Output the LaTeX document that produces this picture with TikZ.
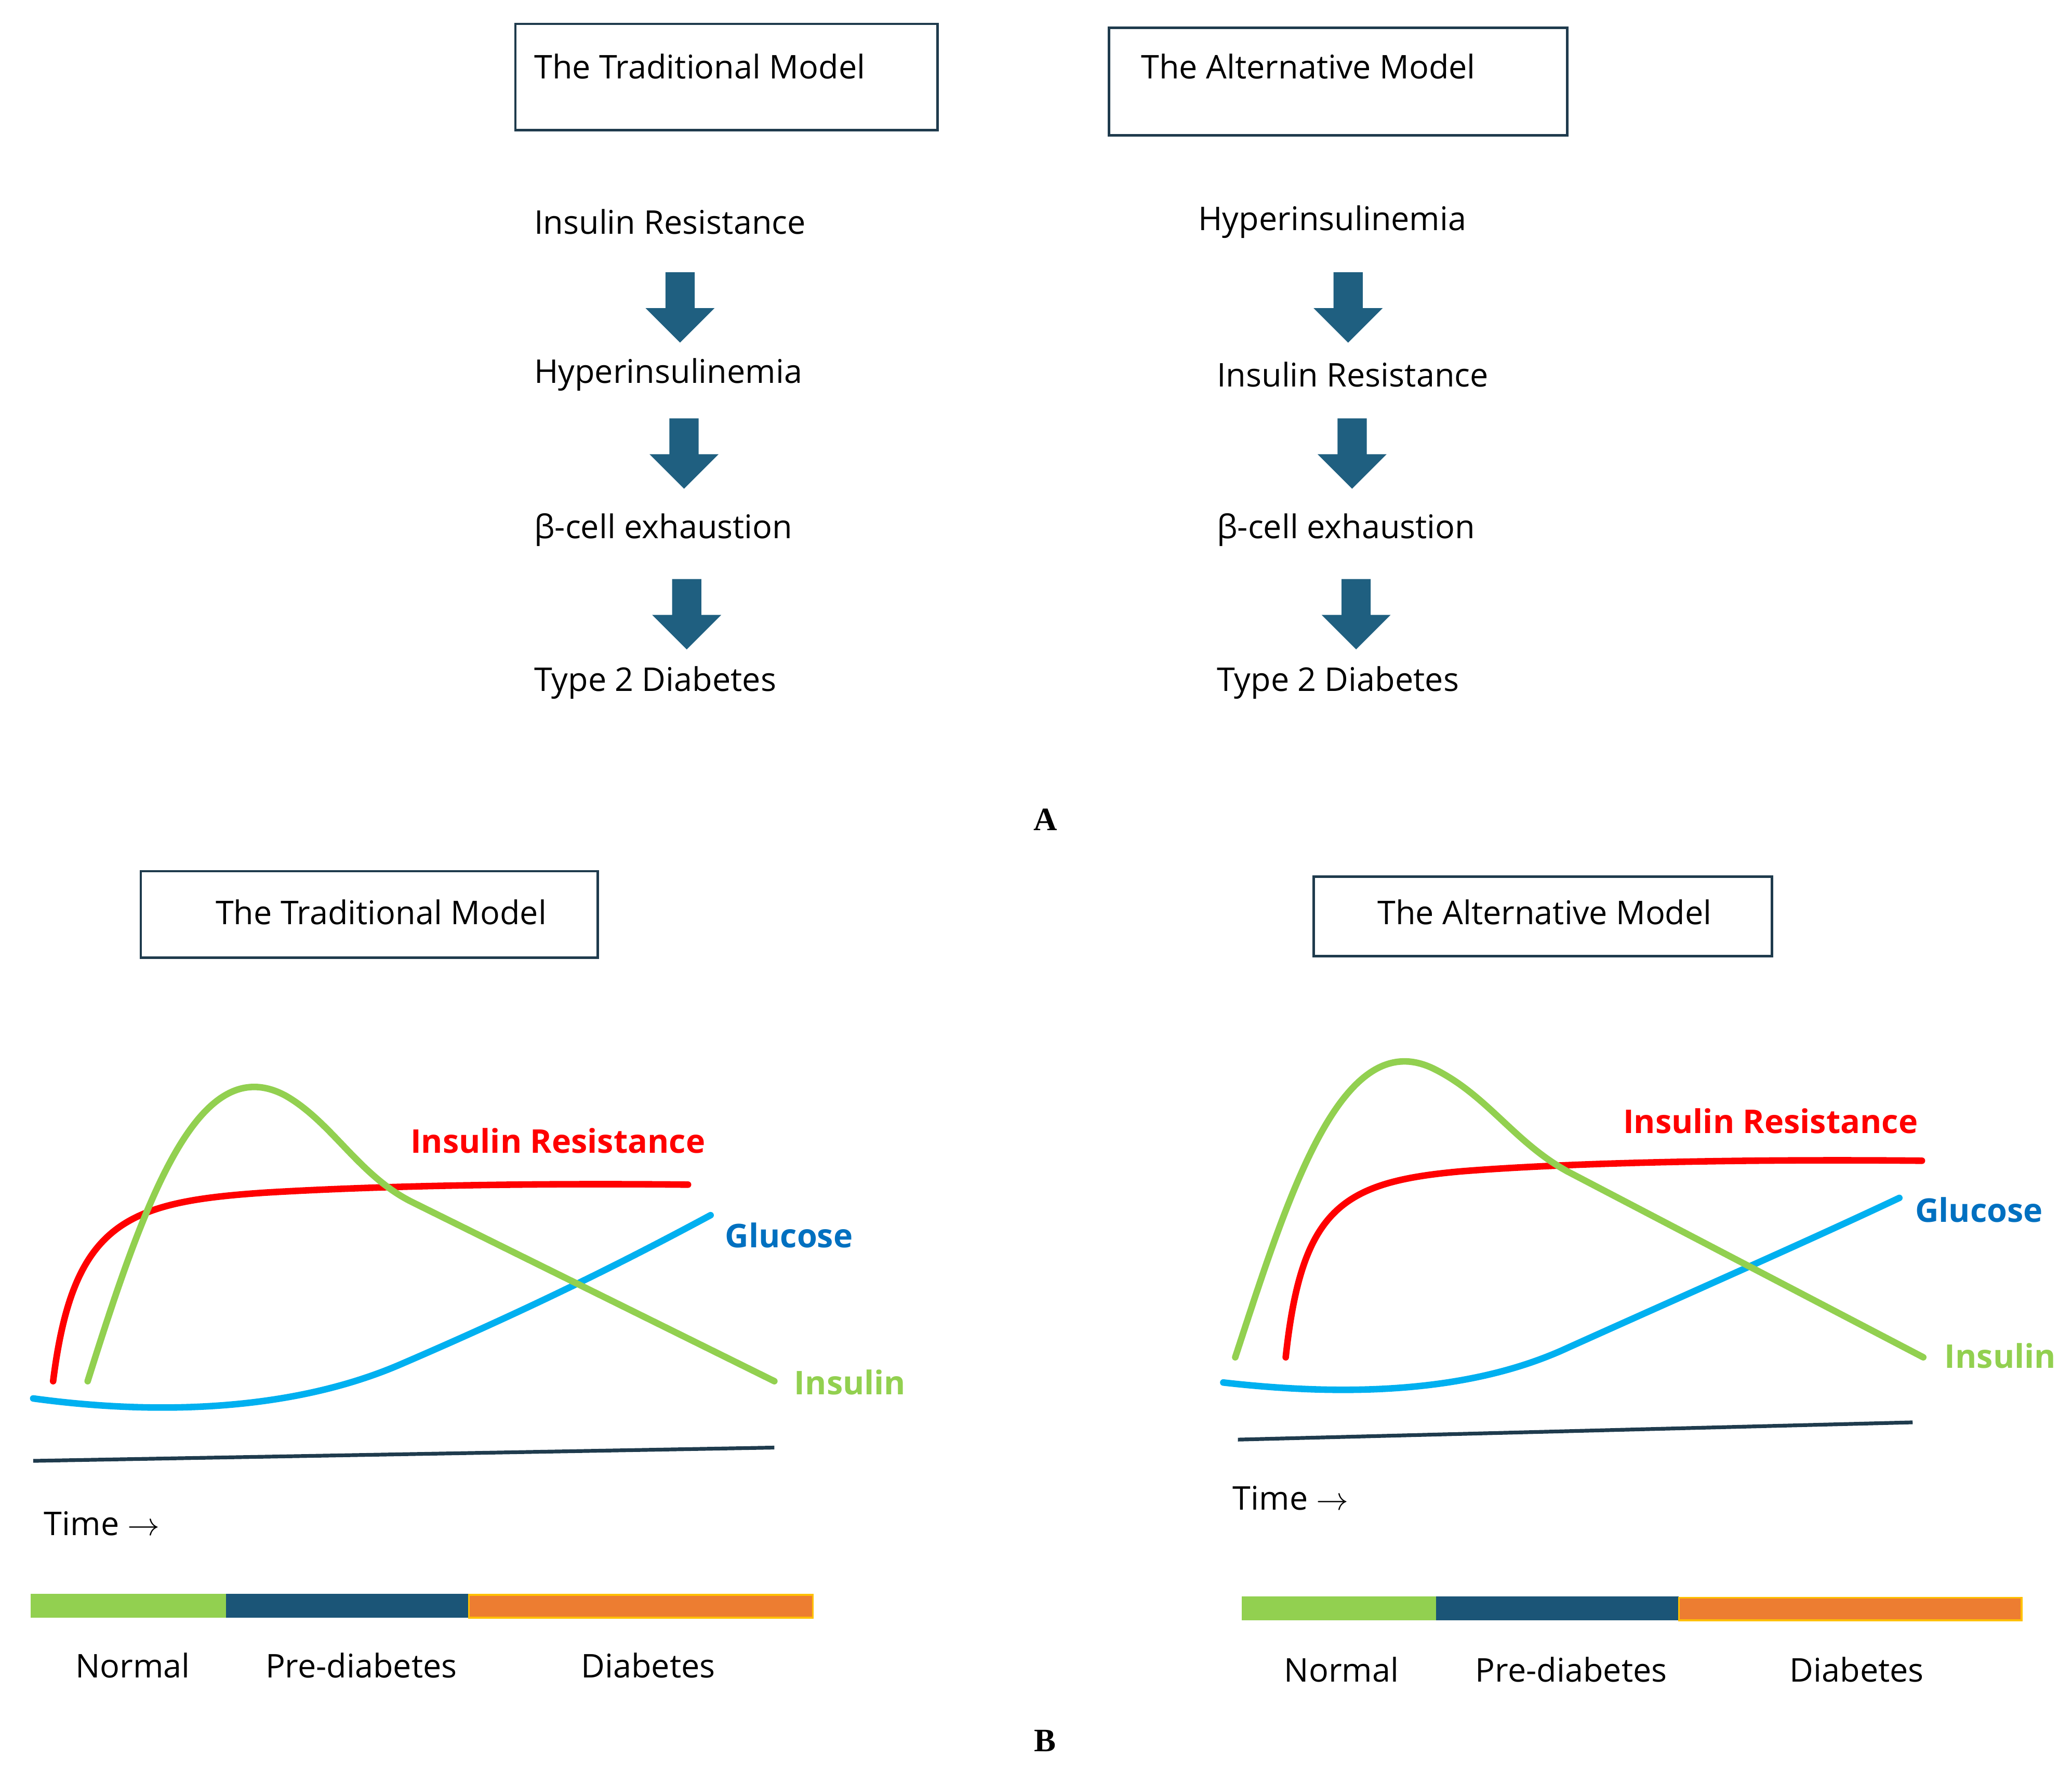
\documentclass[tikz,border=0pt]{standalone}
\usepackage{fontspec}
\setmainfont{Open Sans}
\newfontfamily\serifb{Liberation Serif}
\definecolor{dk}{HTML}{1F5F80}
\definecolor{bx}{HTML}{1F3B4D}
\definecolor{cR}{HTML}{FF0000}
\definecolor{cG}{HTML}{92D050}
\definecolor{cB}{HTML}{00B0F0}
\definecolor{cBl}{HTML}{0070C0}
\definecolor{bar}{HTML}{1B5577}
\definecolor{org}{HTML}{ED7D31}
\definecolor{ylw}{HTML}{FFC000}
\begin{document}
\begin{tikzpicture}[x=0.03cm,y=-0.03cm,
  txt/.style={font=\fontsize{21}{24}\selectfont,anchor=west,inner sep=0},
  ctxt/.style={font=\fontsize{21}{24}\selectfont,inner sep=0},
  lab/.style={font=\fontsize{21}{24}\selectfont\bfseries,inner sep=0},
  box/.style={draw=bx,line width=1.6pt},
  crv/.style={line width=4.2pt,line cap=round},
  ax/.style={draw=bx,line width=2.4pt}]
\useasboundingbox (0,0) rectangle (1560,1334);
\newcommand\dnarrow[3]{\fill[dk] (#1-11,#2) -- (#1+11,#2) -- (#1+11,#2+27) -- (#1+26,#2+27) -- (#1,#2+53) -- (#1-26,#2+27) -- (#1-11,#2+27) -- cycle;}
% Part A
\draw[box] (388,18) rectangle (706,98);
\node[txt] (t1) at (402,50) {The Traditional Model};
\draw[box] (835,21) rectangle (1180,102);
\node[txt] (t2) at (859,50) {The Alternative Model};
\node[txt] (l1) at (402,167) {Insulin Resistance};
\node[txt] (l2) at (402,282) {Hyperinsulinemia};
\node[txt] (l3) at (402,399) {β-cell exhaustion};
\node[txt] (l4) at (402,514) {Type 2 Diabetes};
\node[txt] (r1) at (902,167) {Hyperinsulinemia};
\node[txt] (r2) at (916,282) {Insulin Resistance};
\node[txt] (r3) at (916,399) {β-cell exhaustion};
\node[txt] (r4) at (916,514) {Type 2 Diabetes};
\dnarrow{512}{205}{}
\dnarrow{515}{315}{}
\dnarrow{517}{436}{}
\dnarrow{1015}{205}{}
\dnarrow{1018}{315}{}
\dnarrow{1021}{436}{}
\node[font=\serifb\fontsize{21}{24}\selectfont\bfseries] (A) at (787,617) {A};
\node[font=\serifb\fontsize{21}{24}\selectfont\bfseries] (B) at (787,1311) {B};
% Part B left
\draw[box] (106,656) rectangle (450,721);
\node[ctxt] (bt1) at (287,687) {The Traditional Model};
\draw[crv,cB] (25,1053) .. controls (120,1066) and (220,1062) .. (300,1028) .. controls (400,985) and (470,950) .. (535,915);
\draw[crv,cR] (40,1040) .. controls (55,920) and (95,905) .. (200,898) .. controls (300,892) and (420,891) .. (518,892);
\draw[crv,cG] (66,1040) .. controls (110,900) and (150,790) .. (215,825) .. controls (250,845) and (270,885) .. (310,905) -- (583,1040);
\draw[ax] (25,1100) -- (583,1090);
\node[lab,text=cR] (ir1) at (420,859) {Insulin Resistance};
\node[lab,text=cBl] (g1) at (594,930) {Glucose};
\node[lab,text=cG] (i1) at (640,1041) {Insulin};
\node[txt] (tm1) at (33,1147) {Time $\rightarrow$};
\fill[cG] (23,1200) rectangle (170,1218);
\fill[bar] (170,1200) rectangle (353,1218);
\draw[fill=org,draw=ylw,line width=1.2pt] (353,1201) rectangle (612,1218);
\node[ctxt] (n1) at (100,1254) {Normal};
\node[ctxt] (p1) at (272,1254) {Pre-diabetes};
\node[ctxt] (d1) at (488,1254) {Diabetes};
% Part B right
\draw[box] (989,660) rectangle (1334,720);
\node[ctxt] (bt2) at (1163,687) {The Alternative Model};
\draw[crv,cB] (921,1041) .. controls (1000,1050) and (1100,1052) .. (1180,1015) .. controls (1280,970) and (1360,935) .. (1430,902);
\draw[crv,cR] (968,1022) .. controls (980,910) and (1010,890) .. (1100,882) .. controls (1200,874) and (1350,873) .. (1447,874);
\draw[crv,cG] (930,1022) .. controls (970,900) and (1010,770) .. (1080,805) .. controls (1120,825) and (1140,860) .. (1180,882) -- (1448,1022);
\draw[ax] (932,1084) -- (1440,1071);
\node[lab,text=cR] (ir2) at (1333,844) {Insulin Resistance};
\node[lab,text=cBl] (g2) at (1490,911) {Glucose};
\node[lab,text=cG] (i2) at (1506,1021) {Insulin};
\node[txt] (tm2) at (928,1128) {Time $\rightarrow$};
\fill[cG] (935,1202) rectangle (1081,1220);
\fill[bar] (1081,1202) rectangle (1264,1220);
\draw[fill=org,draw=ylw,line width=1.2pt] (1264,1203) rectangle (1522,1220);
\node[ctxt] (n2) at (1010,1257) {Normal};
\node[ctxt] (p2) at (1183,1257) {Pre-diabetes};
\node[ctxt] (d2) at (1398,1257) {Diabetes};
\end{tikzpicture}
\end{document}
